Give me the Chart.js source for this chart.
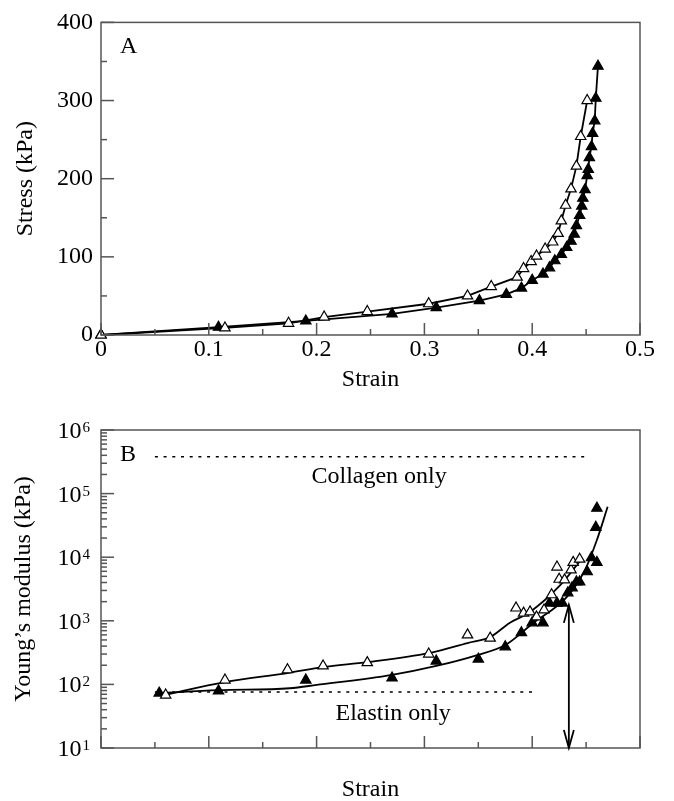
<!DOCTYPE html>
<html>
<head>
<meta charset="utf-8">
<script src="https://cdn.jsdelivr.net/npm/chart.js@4/dist/chart.umd.min.js"></script>
<style>
  body { margin: 0; background: #fff; }
  canvas { display: block; }
</style>
</head>
<body>
<canvas id="chartA" width="674" height="400"></canvas>
<canvas id="chartB" width="674" height="401"></canvas>
<script>
// ---- Panel A: stress vs strain ----
const openStrainA = [0, 0.115, 0.174, 0.207, 0.247, 0.304, 0.340, 0.362, 0.386, 0.392, 0.399, 0.404, 0.412, 0.419, 0.424, 0.427, 0.431, 0.436, 0.441, 0.445, 0.451];
const openStressA = [0, 9, 15, 23, 30, 40, 50, 62, 74, 85, 94, 101, 110, 119, 130, 146, 166, 187, 216, 254, 300];
const filledStrainA = [0, 0.109, 0.190, 0.270, 0.311, 0.351, 0.376, 0.390, 0.400, 0.410, 0.416, 0.421, 0.427, 0.432, 0.436, 0.439, 0.441, 0.444, 0.446, 0.447, 0.449, 0.451, 0.452, 0.453, 0.455, 0.456, 0.458, 0.459, 0.461];
const filledStressA = [0, 10, 18, 27, 35, 44, 52, 60, 70, 78, 86, 95, 103, 112, 120, 129, 140, 153, 165, 175, 186, 204, 212, 227, 241, 258, 274, 303, 344];

// ---- Panel B: Young's modulus vs strain ----
const openStrainB = [0.060, 0.115, 0.173, 0.206, 0.247, 0.304, 0.340, 0.361, 0.385, 0.392, 0.398, 0.404, 0.411, 0.418, 0.423, 0.425, 0.430, 0.436, 0.438, 0.444];
const openModB = [68, 117, 170, 195, 220, 300, 600, 535, 1590, 1320, 1380, 1150, 1480, 2570, 7000, 4500, 4400, 6300, 8300, 9300];
const filledStrainB = [0.054, 0.109, 0.190, 0.270, 0.311, 0.350, 0.375, 0.390, 0.400, 0.410, 0.416, 0.423, 0.428, 0.433, 0.437, 0.441, 0.444, 0.451, 0.455, 0.460, 0.459, 0.460];
const filledModB = [73, 79, 117, 126, 233, 250, 390, 650, 930, 930, 1900, 1900, 1900, 2750, 3300, 4100, 4100, 5900, 9800, 8300, 29500, 59000];

// fitted curves
const openFitStrain = [0.058, 0.115, 0.173, 0.206, 0.247, 0.304, 0.340, 0.361, 0.379, 0.398, 0.426, 0.445];
const openFitMod = [68, 109, 151, 187, 224, 310, 447, 556, 925, 1380, 3630, 9000];
const filledFitStrain = [0.054, 0.109, 0.175, 0.200, 0.270, 0.311, 0.349, 0.375, 0.401, 0.432, 0.449, 0.460, 0.470];
const filledFitMod = [73, 81, 87, 98, 141, 195, 289, 415, 925, 2350, 6300, 18600, 62000];

// reference levels and arrow
const collagenStrain = [0.05, 0.45];
const collagenModulus = 380000;
const elastinStrain = [0.05, 0.40];
const elastinModulus = 76;
const arrowStrain = 0.434;
const arrowRange = [1780, 10];

// ticks
const strainTicks = [0, 0.1, 0.2, 0.3, 0.4, 0.5];
const strainMinorTicks = [0.05, 0.15, 0.25, 0.35, 0.45];
const stressTicks = [0, 100, 200, 300, 400];
const stressMinorTicks = [50, 150, 250, 350];
const modulusExponents = [1, 2, 3, 4, 5, 6];

const FONT = "'Liberation Serif', 'Times New Roman', serif";
Chart.defaults.font.family = FONT;
Chart.defaults.font.size = 24;
Chart.defaults.color = '#000';

const pts = (xs, ys) => xs.map((x, i) => ({ x: x, y: ys[i] }));

const logMinor = [];
modulusExponents.slice(0, -1).forEach(e => {
    for (let k = 2; k <= 9; k++) logMinor.push(k * Math.pow(10, e));
});

// frame, inward ticks, panel letter, notes
const decor = {
    id: 'decor',
    afterDraw(chart, args, o) {
        const { ctx, chartArea: a, scales: { x, y } } = chart;
        ctx.save();
        ctx.strokeStyle = '#555';
        ctx.lineWidth = 1.5;
        ctx.strokeRect(a.left, a.top, a.right - a.left, a.bottom - a.top);
        const seg = (x1, y1, x2, y2) => { ctx.beginPath(); ctx.moveTo(x1, y1); ctx.lineTo(x2, y2); ctx.stroke(); };
        o.xMajor.forEach(v => { const p = x.getPixelForValue(v); seg(p, a.bottom, p, a.bottom - 12); });
        o.xMinor.forEach(v => { const p = x.getPixelForValue(v); seg(p, a.bottom, p, a.bottom - 6); });
        o.yMajor.forEach(v => { const p = y.getPixelForValue(v); seg(a.left, p, a.left + 13, p); });
        o.yMinor.forEach(v => { const p = y.getPixelForValue(v); seg(a.left, p, a.left + 6, p); });

        ctx.fillStyle = '#000';
        ctx.font = '24px ' + FONT;
        ctx.textBaseline = 'alphabetic';
        ctx.textAlign = 'left';
        ctx.fillText(o.letter, a.left + 19, a.top + 31);

        if (o.logLabels) {
            modulusExponents.forEach(e => {
                const p = y.getPixelForValue(Math.pow(10, e));
                ctx.textAlign = 'right';
                ctx.font = '15px ' + FONT;
                const ex = String(e);
                const w = ctx.measureText(ex).width;
                ctx.fillText(ex, a.left - 11, p + 2);
                ctx.font = '24px ' + FONT;
                ctx.fillText('10', a.left - 12 - w, p + 8);
            });
        }
        (o.notes || []).forEach(n => {
            ctx.font = '24px ' + FONT;
            ctx.textAlign = 'center';
            ctx.fillText(n.text, x.getPixelForValue(n.x), y.getPixelForValue(n.y));
        });
        if (o.arrow) {
            const px = x.getPixelForValue(o.arrow.x);
            const top = y.getPixelForValue(o.arrow.y[0]);
            const bot = y.getPixelForValue(o.arrow.y[1]);
            ctx.strokeStyle = '#000';
            ctx.lineWidth = 1.8;
            ctx.beginPath();
            ctx.moveTo(px - 5, top + 18); ctx.lineTo(px, top); ctx.lineTo(px + 5, top + 18);
            ctx.moveTo(px - 5, bot - 18); ctx.lineTo(px, bot); ctx.lineTo(px + 5, bot - 18);
            ctx.stroke();
        }
        ctx.restore();
    }
};

const tri = (fill) => ({
    pointStyle: 'triangle',
    pointRadius: 6,
    pointHoverRadius: 6,
    pointBackgroundColor: fill,
    pointBorderColor: '#000',
    pointBorderWidth: 1.2,
    clip: false
});

const commonX = (extra) => Object.assign({
    type: 'linear', min: 0, max: 0.5,
    grid: { display: false, drawTicks: false },
    border: { display: false },
    title: { display: true, text: 'Strain', padding: { top: 0, bottom: 0 } }
}, extra);

// Panel A
new Chart(document.getElementById('chartA'), {
    type: 'line',
    data: {
        datasets: [
            Object.assign({ data: pts(openStrainA, openStressA), borderColor: '#000', borderWidth: 1.8 }, tri('#fff')),
            Object.assign({ data: pts(filledStrainA, filledStressA), borderColor: '#000', borderWidth: 1.8 }, tri('#000'))
        ]
    },
    options: {
        responsive: false,
        animation: false,
        layout: { padding: { left: 0, right: 34, top: 16, bottom: 6 } },
        plugins: {
            legend: { display: false },
            tooltip: { enabled: false },
            decor: { letter: 'A', xMajor: strainTicks, xMinor: strainMinorTicks, yMajor: stressTicks, yMinor: stressMinorTicks }
        },
        scales: {
            x: commonX({
                ticks: { stepSize: 0.1, padding: 0, maxRotation: 0 },
                afterFit: s => { s.height = 59; }
            }),
            y: {
                min: 0, max: 400,
                grid: { display: false, drawTicks: false },
                border: { display: false },
                ticks: { stepSize: 100, padding: 8 },
                title: { display: true, text: 'Stress (kPa)', padding: { top: 11, bottom: 0 } },
                afterFit: s => { s.width = 101; }
            }
        }
    },
    plugins: [decor]
});

// Panel B
const lineOnly = (data, extra) => Object.assign({
    data: data, borderColor: '#000', borderWidth: 1.8, pointRadius: 0, pointHoverRadius: 0, fill: false
}, extra);

new Chart(document.getElementById('chartB'), {
    type: 'line',
    data: {
        datasets: [
            Object.assign({ data: pts(openStrainB, openModB), showLine: false }, tri('#fff')),
            Object.assign({ data: pts(filledStrainB, filledModB), showLine: false }, tri('#000')),
            lineOnly(pts(openFitStrain, openFitMod), { cubicInterpolationMode: 'monotone' }),
            lineOnly(pts(filledFitStrain, filledFitMod), { cubicInterpolationMode: 'monotone' }),
            lineOnly(collagenStrain.map(x => ({ x: x, y: collagenModulus })), { borderWidth: 1.5, borderDash: [3, 5.7] }),
            lineOnly(elastinStrain.map(x => ({ x: x, y: elastinModulus })), { borderWidth: 1.5, borderDash: [3, 5.7] }),
            lineOnly(arrowRange.map(v => ({ x: arrowStrain, y: v })), { borderWidth: 1.8 })
        ]
    },
    options: {
        responsive: false,
        animation: false,
        layout: { padding: { left: 0, right: 34, top: 30, bottom: 0 } },
        plugins: {
            legend: { display: false },
            tooltip: { enabled: false },
            decor: {
                letter: 'B', logLabels: true,
                xMajor: strainTicks, xMinor: strainMinorTicks,
                yMajor: modulusExponents.map(e => Math.pow(10, e)), yMinor: logMinor,
                notes: [
                    { text: 'Collagen only', x: 0.258, y: Math.pow(10, 5.17) },
                    { text: 'Elastin only', x: 0.271, y: Math.pow(10, 1.44) }
                ],
                arrow: { x: arrowStrain, y: arrowRange }
            }
        },
        scales: {
            x: commonX({
                ticks: { display: false },
                title: { display: true, text: 'Strain', padding: { top: 0, bottom: -3 } },
                afterFit: s => { s.height = 53; }
            }),
            y: {
                type: 'logarithmic', min: 10, max: 1000000,
                grid: { display: false, drawTicks: false },
                border: { display: false },
                ticks: { display: false },
                title: { display: true, text: 'Young’s modulus (kPa)', padding: { top: 9, bottom: 0 } },
                afterFit: s => { s.width = 101; }
            }
        }
    },
    plugins: [decor]
});
</script>
</body>
</html>
